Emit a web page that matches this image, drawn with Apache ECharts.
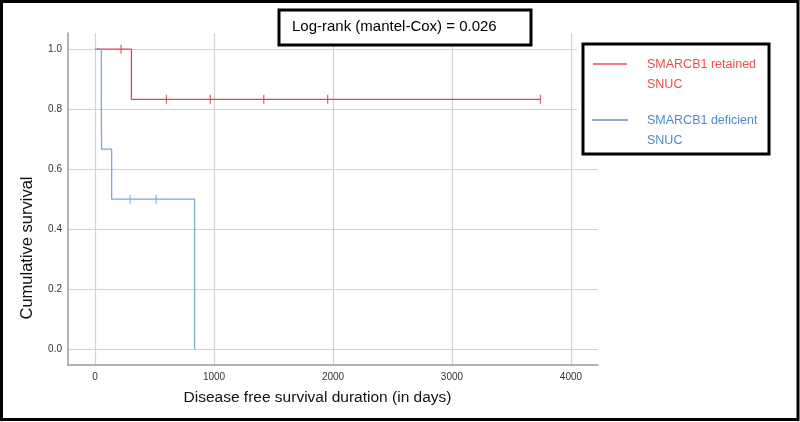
<!DOCTYPE html>
<html>
<head>
<meta charset="utf-8">
<script src="https://cdn.jsdelivr.net/npm/echarts@6/dist/echarts.min.js"></script>
<style>
html, body { margin: 0; padding: 0; background: #fff; }
#chart { width: 800px; height: 422px; }
</style>
</head>
<body>
<div id="chart"></div>
<script>
// Kaplan-Meier steps: time in days, survival after the event at that time
const retainedTimes = [0, 306, 3743];
const retainedSurv = [1, 0.833, 0.833];
const retainedCensorTimes = [219, 600, 969, 1418, 1955, 3743];
const retainedCensorSurv = [1, 0.833, 0.833, 0.833, 0.833, 0.833];

const deficientTimes = [0, 53, 55, 140, 837];
const deficientSurv = [1, 0.833, 0.667, 0.5, 0];
const deficientCensorTimes = [295, 514];
const deficientCensorSurv = [0.5, 0.5];

const xTicks = [0, 1000, 2000, 3000, 4000];
const yTicks = [0, 0.2, 0.4, 0.6, 0.8, 1.0];

const seriesNames = ['SMARCB1 retained SNUC', 'SMARCB1 deficient SNUC'];
const statText = 'Log-rank (mantel-Cox) = 0.026';

const RED = '#e2405a';
const BLUE = '#7aa8df';

function pairs(xs, ys) {
    return xs.map(function (x, i) { return [x, ys[i]]; });
}

const chart = echarts.init(document.getElementById('chart'));

chart.setOption({
    animation: false,
    textStyle: { fontFamily: 'Liberation Sans' },
    grid: {
        left: 68,
        right: 202,
        top: 33,
        bottom: 57
    },
    xAxis: {
        type: 'value',
        min: -227,
        max: 4227,
        name: 'Disease free survival duration (in days)',
        nameLocation: 'middle',
        nameGap: 25,
        nameTextStyle: { fontSize: 15.5, color: '#111', padding: [0, 31, 0, 0] },
        axisLine: { show: true, onZero: false, lineStyle: { color: '#9a9a9a', width: 1.5 } },
        axisTick: { show: false, customValues: xTicks },
        axisLabel: {
            customValues: xTicks,
            fontSize: 10,
            color: '#333',
            margin: 7,
            formatter: function (v) { return String(v); }
        },
        splitLine: { show: true, lineStyle: { color: '#d2d2d2', width: 1.2 } }
    },
    yAxis: {
        type: 'value',
        min: -0.053,
        max: 1.054,
        name: 'Cumulative survival',
        nameLocation: 'middle',
        nameGap: 32,
        nameTextStyle: { fontSize: 16.5, color: '#111', padding: [0, 98, 0, 0] },
        axisLine: { show: true, onZero: false, lineStyle: { color: '#9a9a9a', width: 1.5 } },
        axisTick: { show: false, customValues: yTicks },
        axisLabel: {
            customValues: yTicks,
            fontSize: 10,
            color: '#333',
            margin: 6,
            formatter: function (v) { return v.toFixed(1); }
        },
        splitLine: { show: true, lineStyle: { color: '#d2d2d2', width: 1.2 } }
    },
    series: [
        {
            name: seriesNames[0],
            type: 'line',
            step: 'end',
            showSymbol: false,
            lineStyle: { color: RED, width: 1.3 },
            data: pairs(retainedTimes, retainedSurv),
            z: 3
        },
        {
            name: seriesNames[1],
            type: 'line',
            step: 'end',
            showSymbol: false,
            lineStyle: { color: BLUE, width: 1.3 },
            data: pairs(deficientTimes, deficientSurv),
            z: 3
        },
        {
            type: 'scatter',
            symbol: 'rect',
            symbolSize: [1.3, 9],
            itemStyle: { color: RED },
            data: pairs(retainedCensorTimes, retainedCensorSurv),
            z: 4
        },
        {
            type: 'scatter',
            symbol: 'rect',
            symbolSize: [1.3, 9],
            itemStyle: { color: BLUE },
            data: pairs(deficientCensorTimes, deficientCensorSurv),
            z: 4
        }
    ],
    graphic: [
        // outer frame
        {
            type: 'rect', z: 100,
            shape: { x: 1.5, y: 1.5, width: 796.5, height: 418 },
            style: { fill: null, stroke: '#000', lineWidth: 3 }
        },
        // log-rank box
        {
            type: 'rect', z: 100,
            shape: { x: 279, y: 10, width: 252, height: 35 },
            style: { fill: '#fff', stroke: '#000', lineWidth: 3 }
        },
        {
            type: 'text', z: 101, left: 292, top: 19,
            style: { text: statText, font: '15px "Liberation Sans"', fill: '#000' }
        },
        // legend box
        {
            type: 'rect', z: 99,
            shape: { x: 577, y: 38, width: 200, height: 122 },
            style: { fill: '#fff' }
        },
        {
            type: 'rect', z: 100,
            shape: { x: 583, y: 44, width: 186, height: 110 },
            style: { fill: '#fff', stroke: '#000', lineWidth: 3 }
        },
        {
            type: 'line', z: 101,
            shape: { x1: 593, y1: 64, x2: 627, y2: 64 },
            style: { stroke: '#f0505c', lineWidth: 1.6 }
        },
        {
            type: 'text', z: 101, left: 647, top: 55,
            style: { text: 'SMARCB1 retained\nSNUC', font: '12.5px "Liberation Sans"', lineHeight: 20, fill: '#f04c4c' }
        },
        {
            type: 'line', z: 101,
            shape: { x1: 592, y1: 120, x2: 628, y2: 120 },
            style: { stroke: '#5a8fd2', lineWidth: 1.6 }
        },
        {
            type: 'text', z: 101, left: 647, top: 111,
            style: { text: 'SMARCB1 deficient\nSNUC', font: '12.5px "Liberation Sans"', lineHeight: 20, fill: '#4f89d2' }
        }
    ]
});
</script>
</body>
</html>
